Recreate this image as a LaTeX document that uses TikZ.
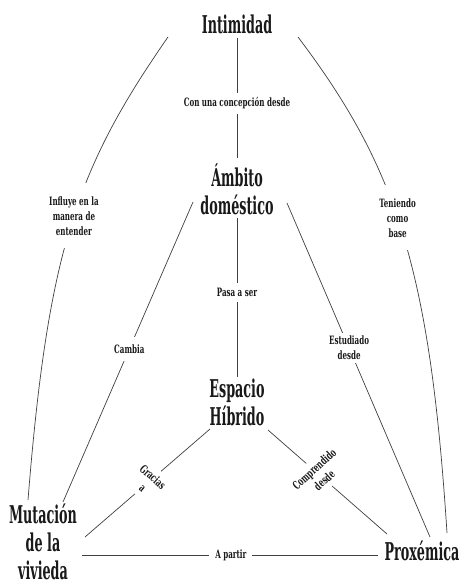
\documentclass[tikz,border=0pt]{standalone}
\usepackage{fontspec}
\setmainfont{DejaVu Serif}[FakeStretch=0.62]
\newfontfamily\bigf{DejaVu Serif}[FakeStretch=0.52]
\begin{document}
\begin{tikzpicture}[x=1pt,y=-1pt,
  mainnode/.style={font=\bigf\bfseries\fontsize{24.5}{28}\selectfont, align=center, inner sep=0pt, text=black!90},
  lab/.style={font=\bfseries\fontsize{11.5}{15}\selectfont, align=center, fill=white, inner xsep=6pt, inner ysep=5pt, text=black!90},
  conn/.style={draw=black!75, line width=0.7pt}]
\useasboundingbox (0,0) rectangle (463,581);
\fill[white] (0,0) rectangle (463,581);

\node[mainnode] (int) at (237,24) {Intimidad};
\node[mainnode] (amb) at (237,189) {Ámbito\\doméstico};
\node[mainnode] (esp) at (237,402) {Espacio\\Híbrido};
\node[mainnode] (mut) at (43,542) {Mutación\\de la\\vivieda};
\node[mainnode] (prox) at (422,551) {Proxémica};

\draw[conn] ([shift={(0,14)}]int.center) -- node[lab,pos=0.546]{Con una concepción desde} ([shift={(0,-31)}]amb.center);
\draw[conn] ([shift={(-69,13)}]int.center) .. controls (77,168) and (48,250) .. node[lab,pos=0.48,inner ysep=13pt]{Influye en la\\manera de\\entender} ([shift={(-15,-42)}]mut.center);
\draw[conn] ([shift={(61,13)}]int.center) .. controls (397,168) and (430,270) .. node[lab,pos=0.46,inner ysep=13pt]{Teniendo\\como\\base} ([shift={(25,-18)}]prox.center);
\draw[conn] ([shift={(0,29)}]amb.center) -- node[lab,pos=0.47]{Pasa a ser} ([shift={(0,-25)}]esp.center);
\draw[conn] ([shift={(-44,13)}]amb.center) -- node[lab,pos=0.49,inner ysep=8pt]{Cambia} ([shift={(20,-40)}]mut.center);
\draw[conn] ([shift={(50,14)}]amb.center) -- node[lab,pos=0.434,inner ysep=3pt]{Estudiado\\desde} ([shift={(8,-14)}]prox.center);
\draw[conn] ([shift={(-27,27)}]esp.center) -- node[lab,pos=0.496,rotate=-42]{Gracias\\a} ([shift={(42,-5)}]mut.center);
\draw[conn] ([shift={(31,28)}]esp.center) -- node[lab,pos=0.43,rotate=42]{Comprendido\\desde} ([shift={(-35,-17)}]prox.center);
\draw[conn] ([shift={(39,13)}]mut.center) -- node[lab,pos=0.503]{A partir} ([shift={(-44,4)}]prox.center);
\end{tikzpicture}
\end{document}
